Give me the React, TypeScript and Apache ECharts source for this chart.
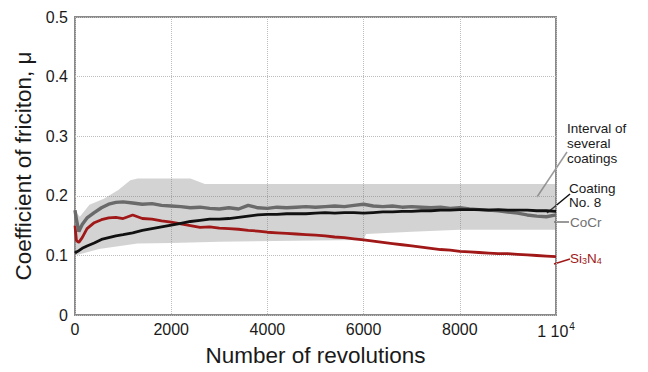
import React, { useEffect, useRef } from "react";
import * as echarts from "echarts";

const revs = [
  0, 30, 80, 150, 250, 400, 550, 700, 850, 1000, 1200, 1400, 1600, 1800, 2000,
  2200, 2400, 2600, 2800, 3000, 3200, 3400, 3600, 3800, 4000, 4200, 4400, 4600, 4800, 5000,
  5200, 5400, 5600, 5800, 6000, 6200, 6400, 6600, 6800, 7000, 7200, 7400, 7600, 7800, 8000,
  8200, 8400, 8600, 8800, 9000, 9200, 9400, 9600, 9800, 10000,
];

const cocr = [
  0.176, 0.16, 0.14, 0.152, 0.163, 0.172, 0.18, 0.186, 0.189, 0.19, 0.188, 0.186, 0.187, 0.184, 0.183,
  0.182, 0.18, 0.181, 0.179, 0.178, 0.18, 0.178, 0.184, 0.18, 0.179, 0.181, 0.18, 0.181, 0.182, 0.181,
  0.182, 0.183, 0.182, 0.184, 0.186, 0.183, 0.182, 0.183, 0.181, 0.182, 0.181, 0.18, 0.181, 0.179, 0.18,
  0.178, 0.177, 0.176, 0.175, 0.173, 0.171, 0.168, 0.166, 0.165, 0.168,
];

const coating8 = [
  0.104, 0.106, 0.108, 0.112, 0.116, 0.121, 0.127, 0.13, 0.133, 0.135, 0.138, 0.142, 0.145, 0.148, 0.151,
  0.154, 0.157, 0.159, 0.161, 0.161, 0.162, 0.164, 0.166, 0.168, 0.169, 0.169, 0.17, 0.17, 0.17, 0.171,
  0.172, 0.171, 0.172, 0.172, 0.171, 0.172, 0.173, 0.173, 0.174, 0.174, 0.175, 0.175, 0.176, 0.176, 0.177,
  0.177, 0.177, 0.176, 0.177, 0.176, 0.176, 0.176, 0.175, 0.175, 0.174,
];

const si3n4 = [
  0.15, 0.125, 0.122, 0.13, 0.145, 0.155, 0.16, 0.163, 0.164, 0.162, 0.168, 0.162, 0.161, 0.158, 0.156,
  0.153, 0.15, 0.147, 0.148, 0.146, 0.145, 0.144, 0.142, 0.141, 0.139, 0.138, 0.137, 0.136, 0.135, 0.134,
  0.133, 0.131, 0.13, 0.128, 0.126, 0.124, 0.122, 0.12, 0.118, 0.116, 0.114, 0.112, 0.11, 0.109, 0.107,
  0.106, 0.105, 0.104, 0.103, 0.103, 0.102, 0.101, 0.1, 0.099, 0.098,
];

const bandUpperX = [0, 100, 300, 600, 900, 1150, 1300, 2400, 2700, 10000];
const bandUpperY = [0.175, 0.165, 0.185, 0.195, 0.21, 0.226, 0.229, 0.229, 0.22, 0.22];
const bandLowerX = [0, 500, 1300, 2000, 3000, 5000, 6000, 6050, 7000, 8000, 10000];
const bandLowerY = [0.1, 0.111, 0.12, 0.121, 0.123, 0.125, 0.126, 0.136, 0.14, 0.143, 0.143];

const xTicks = [0, 2000, 4000, 6000, 8000, 10000];
const yTicks = [0, 0.1, 0.2, 0.3, 0.4, 0.5];

const FONT = "Liberation Sans, Arial, sans-serif";

const pair = (xs: number[], ys: number[]) => xs.map((x, i) => [x, ys[i]]);

export default function App() {
  const ref = useRef<HTMLDivElement>(null);
  useEffect(() => {
    document.body.style.margin = "0";
    if (!ref.current) return;
    const chart = echarts.init(ref.current, null, { renderer: "svg" });
    const upper = pair(bandUpperX, bandUpperY);
    const lower = pair(bandLowerX, bandLowerY);
    chart.setOption({
      animation: false,
      backgroundColor: "#fff",
      grid: {
        left: 75,
        right: 92,
        top: 17,
        bottom: 53,
        show: true,
        borderColor: "#8a8a8a",
        borderWidth: 2,
      },
      xAxis: {
        type: "value",
        min: xTicks[0],
        max: xTicks[xTicks.length - 1],
        interval: 2000,
        name: "Number of revolutions",
        nameLocation: "middle",
        nameGap: 24,
        nameTextStyle: { fontFamily: FONT, fontSize: 22.5, color: "#1a1a1a" },
        axisLine: { show: false },
        axisTick: { show: false },
        axisLabel: {
          fontFamily: FONT,
          fontSize: 16,
          color: "#1a1a1a",
          margin: 6,
          formatter: (v: number) => (v === 10000 ? "{a|1 10}{s|4}" : String(v)),
          rich: {
            a: { fontFamily: FONT, fontSize: 16, color: "#1a1a1a" },
            s: { fontFamily: FONT, fontSize: 10, color: "#1a1a1a", padding: [0, 0, 10, 1] },
          },
        },
        splitLine: { show: true, lineStyle: { color: "#bdbdbd", type: "dotted", width: 1 } },
      },
      yAxis: {
        type: "value",
        min: yTicks[0],
        max: yTicks[yTicks.length - 1],
        interval: 0.1,
        name: "Coefficient of friciton, μ",
        nameLocation: "middle",
        nameGap: 40,
        nameRotate: 90,
        nameTextStyle: { fontFamily: FONT, fontSize: 22.5, color: "#1a1a1a" },
        axisLine: { show: false },
        axisTick: { show: false },
        axisLabel: {
          fontFamily: FONT,
          fontSize: 16,
          color: "#1a1a1a",
          margin: 7,
          formatter: (v: number) => (v === 0 ? "0" : v.toFixed(1)),
        },
        splitLine: { show: true, lineStyle: { color: "#bdbdbd", type: "dotted", width: 1 } },
      },
      series: [
        {
          type: "custom",
          name: "Interval of several coatings",
          data: [[0, 0.2]],
          silent: true,
          z: 1,
          renderItem: (_params: any, api: any) => {
            const pts = upper
              .map((p) => api.coord(p))
              .concat(lower.slice().reverse().map((p) => api.coord(p)));
            return {
              type: "polygon",
              shape: { points: pts },
              style: { fill: "rgba(125,125,125,0.34)" },
            };
          },
        },
        {
          type: "line",
          name: "Si3N4",
          data: pair(revs, si3n4),
          showSymbol: false,
          z: 3,
          lineStyle: { color: "#a01818", width: 2.8 },
        },
        {
          type: "line",
          name: "CoCr",
          data: pair(revs, cocr),
          showSymbol: false,
          z: 4,
          lineStyle: { color: "#6a6a6a", width: 3.4 },
        },
        {
          type: "line",
          name: "Coating No. 8",
          data: pair(revs, coating8),
          showSymbol: false,
          z: 5,
          lineStyle: { color: "#111111", width: 2.8 },
        },
      ],
      graphic: [
        { type: "line", shape: { x1: 537, y1: 197, x2: 567, y2: 152 }, style: { stroke: "#999", lineWidth: 1.5 } },
        { type: "line", shape: { x1: 547, y1: 213, x2: 570, y2: 194 }, style: { stroke: "#111", lineWidth: 1.5 } },
        { type: "line", shape: { x1: 554, y1: 222, x2: 569, y2: 222 }, style: { stroke: "#777", lineWidth: 1.5 } },
        { type: "line", shape: { x1: 554, y1: 264, x2: 570, y2: 259 }, style: { stroke: "#a01818", lineWidth: 1.5 } },
        {
          type: "text",
          x: 567,
          y: 143,
          style: {
            text: "Interval of\nseveral\ncoatings",
            fontFamily: FONT,
            fontSize: 13.5,
            lineHeight: 15,
            fill: "#1a1a1a",
            verticalAlign: "middle",
            align: "left",
          },
        },
        {
          type: "text",
          x: 569,
          y: 195,
          style: {
            text: "Coating\nNo. 8",
            fontFamily: FONT,
            fontSize: 13.5,
            lineHeight: 14,
            fill: "#1a1a1a",
            verticalAlign: "middle",
            align: "left",
          },
        },
        {
          type: "text",
          x: 570,
          y: 222,
          style: {
            text: "CoCr",
            fontFamily: FONT,
            fontSize: 13.5,
            fill: "#707070",
            verticalAlign: "middle",
            align: "left",
          },
        },
        {
          type: "text",
          x: 570,
          y: 258,
          style: {
            text: "{a|Si}{s|3}{a|N}{s|4}",
            fontFamily: FONT,
            fontSize: 13.5,
            fill: "#a01818",
            verticalAlign: "middle",
            align: "left",
            rich: {
              a: { fontFamily: FONT, fontSize: 13.5, fill: "#a01818", color: "#a01818" },
              s: { fontFamily: FONT, fontSize: 9, fill: "#a01818", color: "#a01818", padding: [6, 0, 0, 0] },
            },
          },
        },
      ],
    });
    return () => chart.dispose();
  }, []);
  return <div ref={ref} style={{ width: 648, height: 372 }} />;
}
